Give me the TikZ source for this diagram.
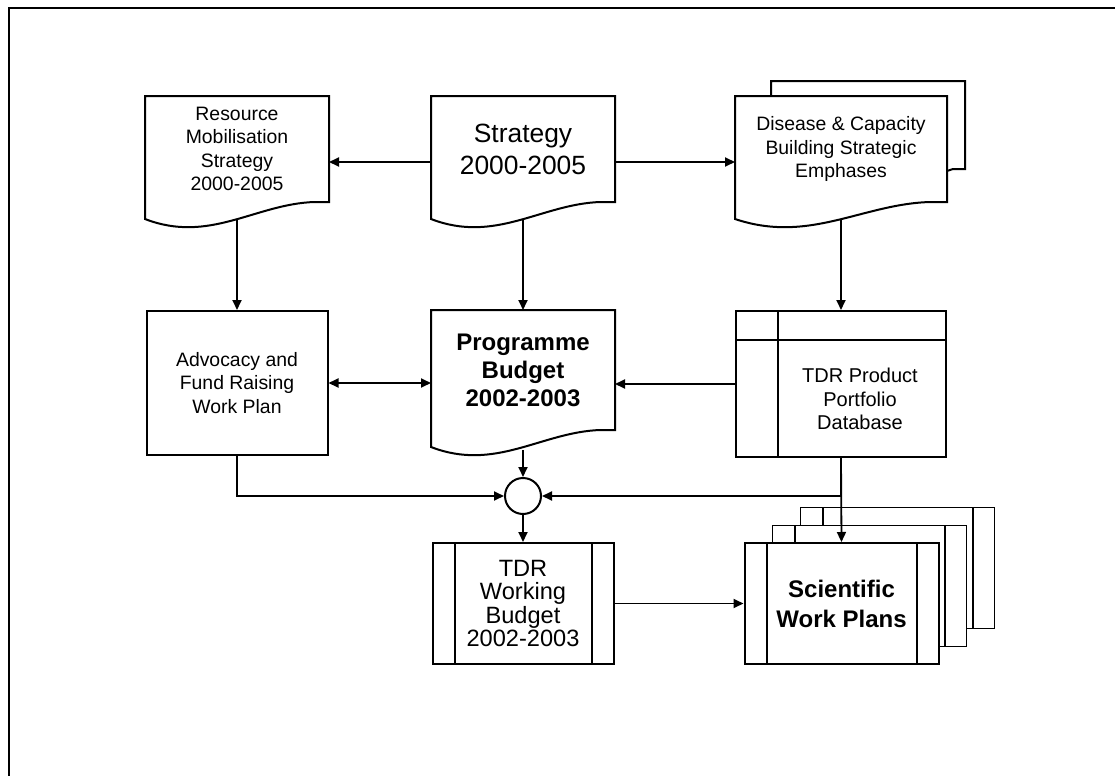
\documentclass[tikz,border=0pt]{standalone}
\usepackage{fontspec}
\setmainfont{Liberation Sans}
\usetikzlibrary{arrows.meta,positioning,calc,backgrounds}

\begin{document}
\begin{tikzpicture}[
				x=0.5pt,y=-0.5pt,line width=1pt,
				txt/.style={font=\fontsize{9.7}{11.8}\selectfont,align=center,inner sep=0pt},
				docbox/.style 2 args={txt,minimum width=#1,minimum height=#2,
					append after command={\pgfextra{
						\draw (\tikzlastnode.south east) -- (\tikzlastnode.north east) -- (\tikzlastnode.north west)
						-- ($(\tikzlastnode.south west)+(0,17)$)
						.. controls ($(\tikzlastnode.south west)!0.35!(\tikzlastnode.south east)+(0,42)$)
						and ($(\tikzlastnode.south west)!0.6!(\tikzlastnode.south east)+(0,2)$)
						.. ($(\tikzlastnode.south west)!0.92!(\tikzlastnode.south east)$) -- cycle;}}},
				process/.style={txt,draw,minimum width=#1,minimum height=72pt},
				predef/.style={txt,draw,fill=white,minimum width=#1,minimum height=60.5pt,
					path picture={
						\draw[line width=1pt] ([xshift=11pt]path picture bounding box.north west) -- ([xshift=11pt]path picture bounding box.south west)
						([xshift=-11pt]path picture bounding box.north east) -- ([xshift=-11pt]path picture bounding box.south east);}},
				dbbox/.style={txt,draw,minimum width=105pt,minimum height=73pt,
					path picture={
						\draw[line width=1pt] ([yshift=-14.5pt]path picture bounding box.north west) -- ([yshift=-14.5pt]path picture bounding box.north east)
						([xshift=21pt]path picture bounding box.north west) -- ([xshift=21pt]path picture bounding box.south west);}},
				mergept/.style={draw,circle,minimum size=18pt,inner sep=0pt},
				arr/.style={-{Triangle[length=5pt,width=4.5pt]},line width=0.9pt},
				dblarr/.style={{Triangle[length=5pt,width=4.5pt]}-{Triangle[length=5pt,width=4.5pt]},line width=0.9pt}
				]
				\useasboundingbox (0,0) rectangle (1115,776);
				\draw[line width=1.1pt] (9,776) -- (9,8) -- (1115,8);
				
				% top row
				\node[docbox={91pt}{52pt},font=\fontsize{13.2}{16}\selectfont] (strategy) at (523,149) {Strategy\\2000-2005};
				\node[docbox={91pt}{52pt},left=51pt of strategy] (resource) {Resource\\Mobilisation\\Strategy\\2000-2005};
				\node[docbox={105pt}{52pt},right=60pt of strategy] (disease) {Disease \& Capacity\\Building Strategic\\Emphases};
				\draw ($(disease.north west)+(36,0)$) -- ++(0,-15) -- ($(disease.north east)+(18,-15)$)
					-- ($(disease.south east)+(18,-33)$) -- ++(-12,0) -- ($(disease.south east)+(0,-31)$);
				
				% middle row
				\node[docbox={91pt}{59pt},font=\bfseries\fontsize{12}{14}\selectfont,below=54pt of strategy] (programme) {Programme\\Budget\\2002-2003};
				\node[process=90.5pt,below=54pt of resource] (advocacy) {Advocacy and\\Fund Raising\\Work Plan};
				\node[dbbox,below=54pt of disease] (product) {};
				\node[txt,font=\fontsize{10}{11.7}\selectfont] (producttext) at ($(product.center)+(19,15)$) {TDR Product\\Portfolio\\Database};
				
				% bottom row
				\node[mergept,below=23.5pt of programme] (merge) {};
				\node[predef=90.5pt,font=\fontsize{11.8}{11.8}\selectfont,below=13.5pt of merge] (working) {TDR\\Working\\Budget\\2002-2003};
				\node[predef=97pt,font=\bfseries\fontsize{12}{15}\selectfont,right=64.5pt of working] (plans) {Scientific\\Work Plans};
				\begin{scope}[on background layer]
					\node[predef=97pt] (sheet3) at ($(plans)+(56,-36)$) {};
					\node[predef=97pt] (sheet2) at ($(plans)+(28,-18)$) {};
				\end{scope}
				
				% arrows
				\draw[arr] ($(strategy.west)+(0,13)$) -- ($(resource.east)+(0,13)$);
				\draw[arr] ($(strategy.east)+(0,13)$) -- ($(disease.west)+(0,13)$);
				\draw[arr] ($(resource.south)+(0,18)$) -- (advocacy.north);
				\draw[arr] ($(strategy.south)+(0,18)$) -- (programme.north);
				\draw[arr] ($(disease.south)+(0,18)$) -- (product.north);
				\draw[dblarr] (advocacy.east) -- (advocacy.east -| programme.west);
				\draw[arr] (product.west) -- (product.west -| programme.east);
				\draw[arr] ($(programme.south)+(0,20)$) -- (merge.north);
				\draw[arr] (advocacy.south) |- (merge.west);
				\draw[arr] (product.south) |- (merge.east);
				\draw[arr] (product.south) -- (plans.north);
				\draw[arr] (merge.south) -- (working.north);
				\draw[arr] (working.east) -- (plans.west);
				
			\end{tikzpicture}
\end{document}
